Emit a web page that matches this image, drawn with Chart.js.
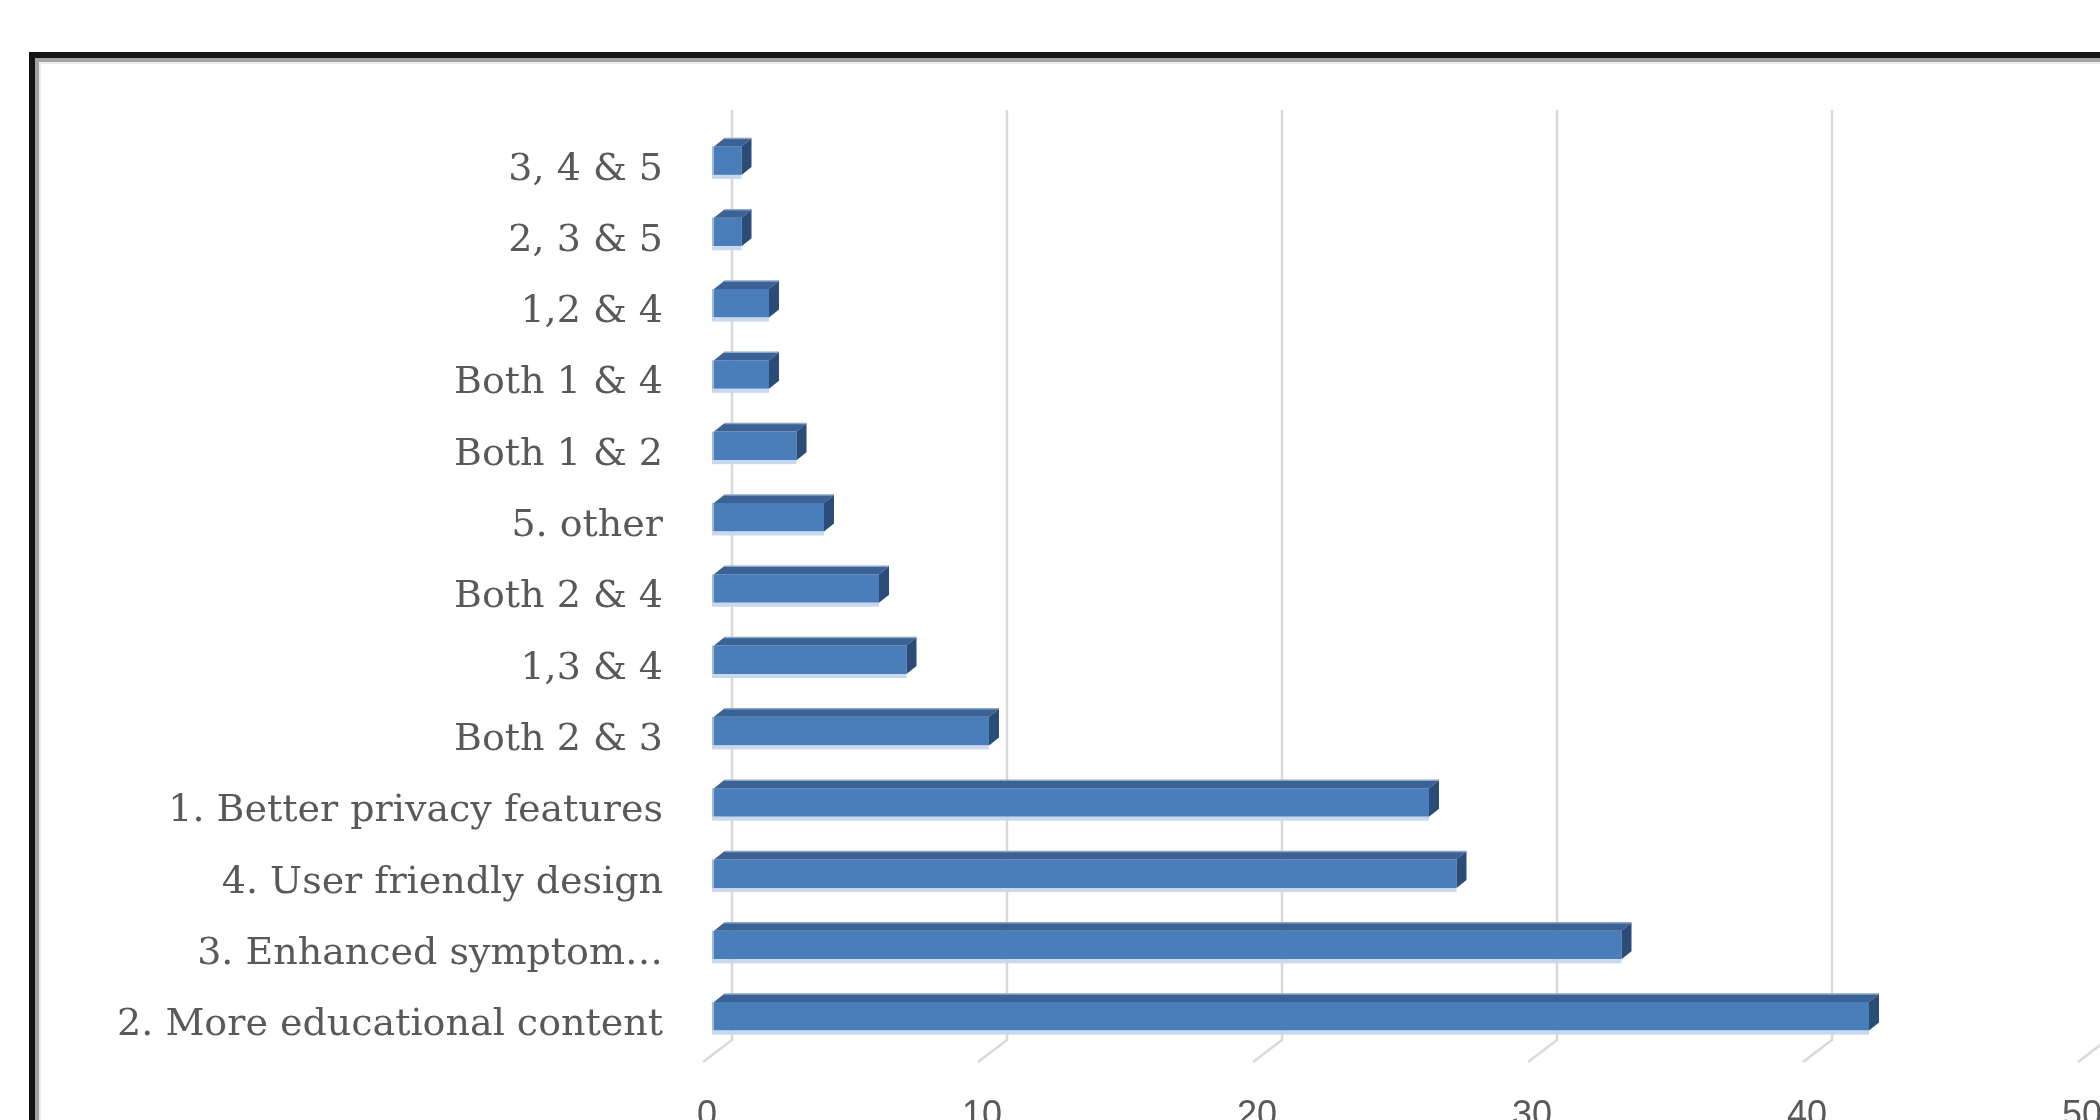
<!DOCTYPE html>
<html>
<head>
<meta charset="utf-8">
<script src="https://cdn.jsdelivr.net/npm/chart.js@4"></script>
<style>
  html, body { margin: 0; padding: 0; background: #fff; overflow: hidden; width: 2100px; height: 1120px; }
  #wrap { position: relative; width: 2100px; height: 1120px; overflow: hidden; }
  #frame {
    position: absolute; left: 29px; top: 52px; width: 2300px; height: 1300px;
    border-left: 6px solid #141414; border-top: 6px solid #141414;
    box-shadow: inset 4px 4px 0 #a3a3a3, inset 6px 6px 0 #ececec;
    box-sizing: border-box;
  }
  canvas { position: absolute; left: 0; top: 0; }
</style>
</head>
<body>
<div id="wrap">
  <div id="frame"></div>
  <canvas id="chart" width="2200" height="1160"></canvas>
</div>
<script>
// categories top to bottom, as in the picture
const categories = [
    '3, 4 & 5',
    '2, 3 & 5',
    '1,2 & 4',
    'Both 1 & 4',
    'Both 1 & 2',
    '5. other',
    'Both 2 & 4',
    '1,3 & 4',
    'Both 2 & 3',
    '1. Better privacy features',
    '4. User friendly design',
    '3. Enhanced symptom\u2026',
    '2. More educational content'
];
const counts = [1, 1, 2, 2, 3, 4, 6, 7, 10, 26, 27, 33, 42];
const xTicks = [0, 10, 20, 30, 40, 50];

const gridColor = '#d9d9d9';

// back wall gridlines with the little slanted floor line, like the excel 3D look
const floorGrid = {
    id: 'floorGrid',
    beforeDatasetsDraw(chart) {
        const ctx = chart.ctx;
        const xs = chart.scales.x;
        ctx.save();
        ctx.strokeStyle = gridColor;
        ctx.lineWidth = 2.5;
        xTicks.forEach(v => {
            const px = xs.getPixelForValue(v);
            ctx.beginPath();
            ctx.moveTo(px + 18, 110);
            ctx.lineTo(px + 18, 1040);
            ctx.lineTo(px - 11, 1062);
            ctx.stroke();
        });
        ctx.restore();
    }
};

// top and side faces of each bar
const barFaces = {
    id: 'barFaces',
    afterDatasetsDraw(chart) {
        const ctx = chart.ctx;
        const meta = chart.getDatasetMeta(0);
        const dx = 10, dy = 8;
        ctx.save();
        meta.data.forEach(bar => {
            const top = bar.y - bar.height / 2;
            const bottom = bar.y + bar.height / 2;
            const start = bar.base;
            const end = bar.x;

            // soft edge under the bar
            ctx.fillStyle = '#c9d8ec';
            ctx.fillRect(start - 2, bottom, end - start + 2, 4);
            ctx.fillStyle = '#9fb8d8';
            ctx.fillRect(start - 2, top, 2, bottom - top);

            // top face
            ctx.fillStyle = '#3b6294';
            ctx.beginPath();
            ctx.moveTo(start, top);
            ctx.lineTo(start + dx, top - dy);
            ctx.lineTo(end + dx, top - dy);
            ctx.lineTo(end, top);
            ctx.closePath();
            ctx.fill();
            ctx.strokeStyle = '#8ca6c8';
            ctx.lineWidth = 1.5;
            ctx.beginPath();
            ctx.moveTo(start + dx, top - dy);
            ctx.lineTo(end + dx, top - dy);
            ctx.stroke();

            // side face
            ctx.fillStyle = '#2c4c78';
            ctx.beginPath();
            ctx.moveTo(end, top);
            ctx.lineTo(end + dx, top - dy);
            ctx.lineTo(end + dx, bottom - dy);
            ctx.lineTo(end, bottom);
            ctx.closePath();
            ctx.fill();
        });
        ctx.restore();
    }
};

new Chart(document.getElementById('chart'), {
    type: 'bar',
    data: {
        labels: categories,
        datasets: [{
            data: counts,
            backgroundColor: '#4a7ebb',
            borderWidth: 0,
            categoryPercentage: 1,
            barPercentage: 0.4
        }]
    },
    options: {
        indexAxis: 'y',
        responsive: false,
        animation: false,
        events: [],
        layout: {
            padding: { top: 125, right: 111, left: 0, bottom: 0 }
        },
        plugins: {
            legend: { display: false },
            tooltip: { enabled: false }
        },
        scales: {
            x: {
                min: 0,
                max: 50,
                afterFit: scale => { scale.height = 108; },
                grid: { display: false, drawTicks: false },
                border: { display: false },
                ticks: {
                    stepSize: 10,
                    maxRotation: 0,
                    padding: 42,
                    labelOffset: -7,
                    color: '#595959',
                    font: { family: 'Liberation Sans', size: 36 }
                }
            },
            y: {
                afterFit: scale => { scale.width = 714; },
                grid: { display: false, drawTicks: false },
                border: { display: false },
                ticks: {
                    padding: 51,
                    labelOffset: 9,
                    autoSkip: false,
                    color: '#595959',
                    font: { family: 'DejaVu Serif', size: 38 }
                }
            }
        }
    },
    plugins: [floorGrid, barFaces]
});
</script>
</body>
</html>
